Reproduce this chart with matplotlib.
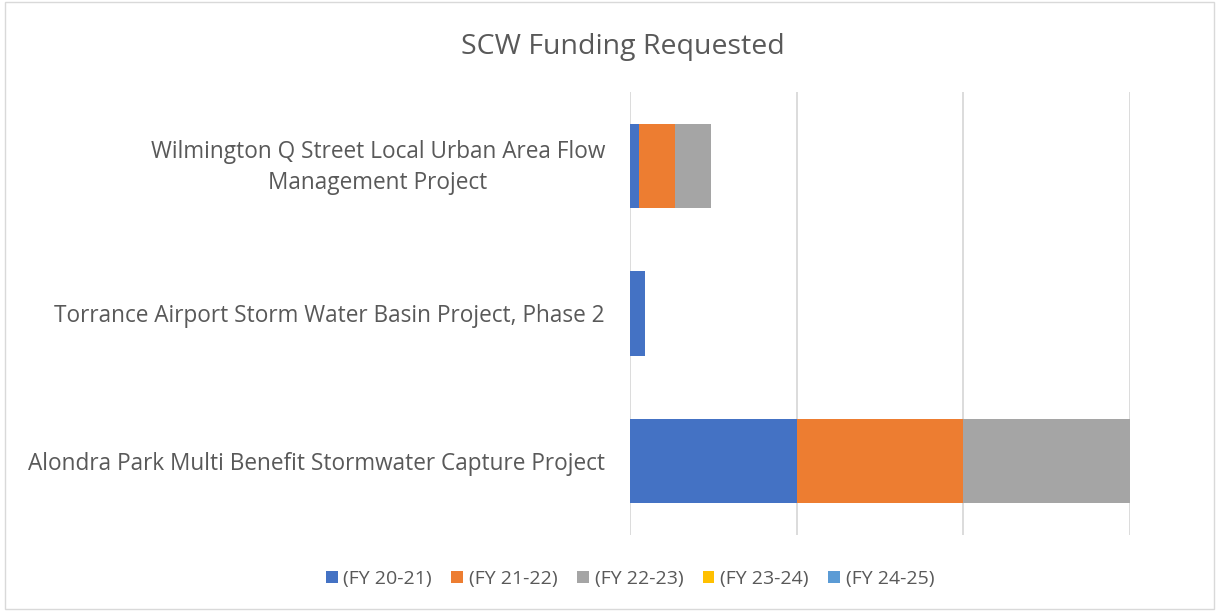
import matplotlib.pyplot as plt
import matplotlib.patches as patches
import matplotlib.transforms as mtransforms
import numpy as np

plt.rcParams['font.family'] = ['Open Sans', 'DejaVu Sans']

# data (grid step assumed 5,000,000)
projects = ["Alondra Park Multi Benefit Stormwater Capture Project",
            "Torrance Airport Storm Water Basin Project, Phase 2",
            "Wilmington Q Street Local Urban Area Flow\nManagement Project"]
years = ["(FY 20-21)", "(FY 21-22)", "(FY 22-23)", "(FY 23-24)", "(FY 24-25)"]
fy_20_21 = [5000000, 440000, 280000]
fy_21_22 = [5000000, 0, 1070000]
fy_22_23 = [5000000, 0, 1090000]
fy_23_24 = [0, 0, 0]
fy_24_25 = [0, 0, 0]
colors = ['#4472C4', '#ED7D31', '#A5A5A5', '#FFC000', '#5B9BD5']

fig = plt.figure(figsize=(12.19, 6.11), dpi=100)
ax = fig.add_axes([630 / 1219, 1 - 535 / 611, 500 / 1219, 443 / 611])

# chart border
fig.add_artist(patches.Rectangle((0.004, 0.004), 0.992, 0.992, transform=fig.transFigure,
                                 fill=False, ec='#D9D9D9', lw=1))

y = np.arange(len(projects))
left = np.zeros(len(projects))
for series, label, c in zip([fy_20_21, fy_21_22, fy_22_23, fy_23_24, fy_24_25], years, colors):
    ax.barh(y, series, left=left, height=0.57, color=c, label=label, zorder=3)
    left += np.array(series)

ax.set_xlim(0, 15000000)
ax.set_ylim(-0.5, 2.5)
ax.set_xticks([0, 5000000, 10000000, 15000000])
ax.set_xticklabels([])
ax.tick_params(axis='x', length=0)
ax.tick_params(axis='y', length=0, pad=18)
ax.set_yticks(y)
ax.set_yticklabels(projects, fontsize=16.3, color='#595959', ha='right', multialignment='center',
                   linespacing=1.4)
# two-line label sits a bit high in the original
lbl = ax.get_yticklabels()[2]
lbl.set_transform(lbl.get_transform() + mtransforms.ScaledTranslation(0, 5 / 100, fig.dpi_scale_trans))
ax.grid(axis='x', color='#D9D9D9', lw=1.3, zorder=0)
for s in ax.spines.values():
    s.set_visible(False)

fig.text(623 / 1219, 1 - 47 / 611, "SCW Funding Requested", ha='center', va='center',
         fontsize=20.5, color='#595959')

handles, labels = ax.get_legend_handles_labels()
fig.legend(handles, labels, loc='center', bbox_to_anchor=(630 / 1219, 1 - 579 / 611), ncol=5,
           frameon=False, fontsize=14, labelcolor='#595959', handlelength=0.6, handleheight=0.6,
           handletextpad=0.3, columnspacing=1.0)

fig.savefig('out.png', dpi=100)
